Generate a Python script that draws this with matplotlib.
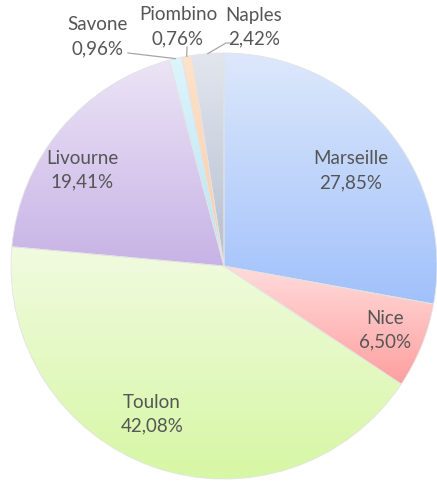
import matplotlib

matplotlib.use("Agg")

import matplotlib.pyplot as plt
import numpy as np
from matplotlib.colors import LinearSegmentedColormap


W, H = 437, 486
DPI = 100
CENTER = (224, H - 266)
RADIUS = 213
FONT = "Lato"
FONT_SIZE = 13.5
TEXT_COLOR = "#555555"
LINE_GAP = 24

# data
ports = ["Marseille", "Nice", "Toulon", "Livourne", "Savone", "Piombino", "Naples"]
shares = [27.85, 6.50, 42.08, 19.41, 0.96, 0.76, 2.42]

# gradient (top, bottom) per slice
grad_colors = [
    ("#dde8fc", "#a1c1fb"),
    ("#ffdcdc", "#ff9f9f"),
    ("#f1fbe0", "#d6f7a4"),
    ("#ece4f6", "#c7b3e6"),
    ("#dff4fb", "#b5e5f5"),
    ("#fee3cc", "#fcc9a0"),
    ("#e2e6ee", "#b5bed0"),
]

# label block centres in image pixels (x, y from top)
label_xy = [(351, 171), (385, 330), (152, 414), (82, 170), (98, 37), (178, 27), (254, 27)]
# leader line start for outside labels (image pixels), None for inside labels
leader_from = [None, None, None, None, [(128, 53)], [(187, 47)], [(230, 43), (226, 43)]]


def img(x, y):
    return x, H - y


def main():
    fig = plt.figure(figsize=(W / DPI, H / DPI), dpi=DPI)
    ax = fig.add_axes([0, 0, 1, 1])

    wedges, _ = ax.pie(
        shares,
        startangle=90,
        counterclock=False,
        center=CENTER,
        radius=RADIUS,
        wedgeprops=dict(facecolor="none", edgecolor="#e3e3e3", linewidth=0.6),
    )

    ramp = np.linspace(0, 1, 256).reshape(-1, 1)
    for wedge, (top, bottom) in zip(wedges, grad_colors):
        wedge.set_zorder(3)
        ext = wedge.get_path().get_extents()
        cmap = LinearSegmentedColormap.from_list("g", [top, bottom])
        im = ax.imshow(
            ramp,
            cmap=cmap,
            origin="upper",
            extent=(ext.x0, ext.x1, ext.y0, ext.y1),
            aspect="auto",
            interpolation="bilinear",
            zorder=2,
        )
        im.set_clip_path(wedge)

    for i, (name, value) in enumerate(zip(ports, shares)):
        lx, ly = label_xy[i]
        pct = f"{value:.2f}%".replace(".", ",")
        for text, dy in ((name, -LINE_GAP / 2), (pct, LINE_GAP / 2)):
            ax.text(*img(lx, ly + dy), text, ha="center", va="center",
                    fontsize=FONT_SIZE, family=FONT, color=TEXT_COLOR, zorder=5)
        if leader_from[i] is not None:
            w = wedges[i]
            mid = np.radians((w.theta1 + w.theta2) / 2)
            ex = CENTER[0] + RADIUS * np.cos(mid)
            ey = CENTER[1] + RADIUS * np.sin(mid)
            pts = [img(px, py) for px, py in leader_from[i]]
            xs = [p[0] for p in pts] + [ex]
            ys = [p[1] for p in pts] + [ey]
            ax.plot(xs, ys, color="#a6a6a6", lw=0.9, zorder=4)

    ax.set_xlim(0, W)
    ax.set_ylim(0, H)
    ax.set_aspect("equal")
    ax.axis("off")
    fig.savefig("out.png", dpi=DPI)
    plt.close(fig)


if __name__ == "__main__":
    main()
